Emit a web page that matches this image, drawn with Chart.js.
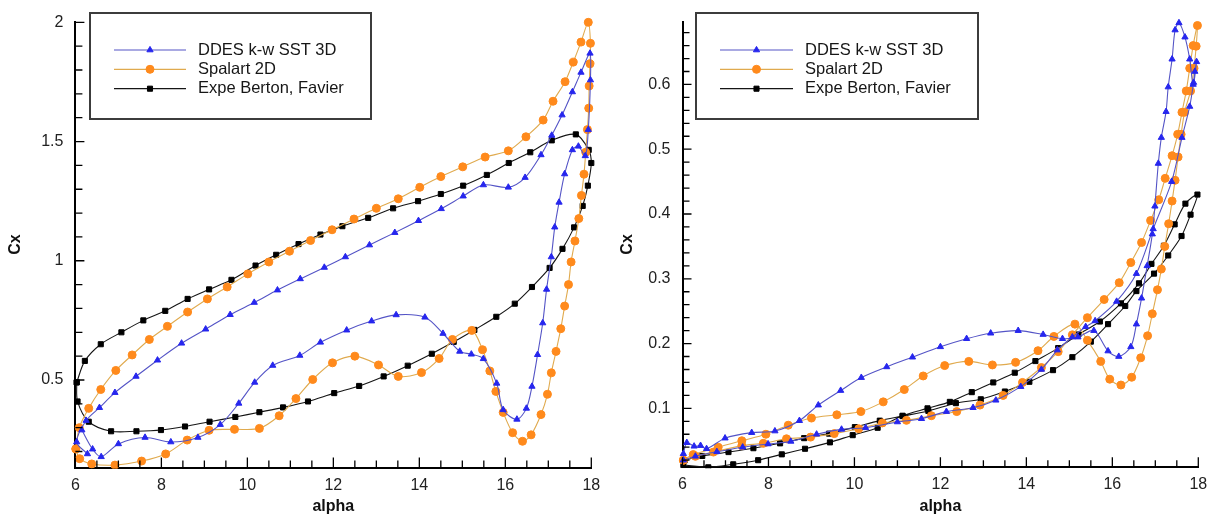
<!DOCTYPE html>
<html lang="en">
<head>
<meta charset="UTF-8">
<title>Cx vs alpha</title>
<script src="https://cdn.jsdelivr.net/npm/chart.js@4"></script>
<style>
  body { margin: 0; background: #fff; }
  .wrap { position: relative; width: 1216px; height: 518px; overflow: hidden; }
  .panel { position: absolute; top: 0; }
  #left { left: 0; }
  #right { left: 600px; }
</style>
</head>
<body>
<div class="wrap">
  <div class="panel" id="left"><canvas id="cLeft" width="616" height="518"></canvas></div>
  <div class="panel" id="right"><canvas id="cRight" width="616" height="518"></canvas></div>
</div>
<script>
const seriesNames = ['DDES k-w SST 3D', 'Spalart 2D', 'Expe Berton, Favier'];
const xTickLabels = [6, 8, 10, 12, 14, 16, 18];
const leftYTickLabels = [0.5, 1, 1.5, 2];
const rightYTickLabels = [0.1, 0.2, 0.3, 0.4, 0.5, 0.6];

// left panel (alpha, Cx) - closed hysteresis loops
const ddesAlphaL = [6.28, 6.03, 6.25, 6.56, 6.92, 7.41, 7.91, 8.47, 9.03, 9.60, 10.16, 10.70, 11.23, 11.79, 12.28, 12.84, 13.43, 13.98, 14.51, 15.02, 15.49, 16.07, 16.46, 16.83, 17.08, 17.32, 17.56, 17.76, 17.97, 17.98, 17.93, 17.86, 17.70, 17.56, 17.38, 17.25, 17.15, 17.07, 16.96, 16.87, 16.75, 16.62, 16.49, 16.27, 15.95, 15.80, 15.49, 15.21, 14.94, 14.55, 14.13, 13.46, 12.89, 12.31, 11.70, 11.22, 10.59, 10.17, 9.80, 9.37, 8.85, 8.22, 7.62, 7.00, 6.60, 6.40, 6.15];
const ddesCxL = [0.19, 0.24, 0.33, 0.384, 0.447, 0.515, 0.583, 0.654, 0.713, 0.774, 0.825, 0.877, 0.924, 0.972, 1.016, 1.066, 1.118, 1.168, 1.218, 1.271, 1.318, 1.308, 1.349, 1.444, 1.526, 1.611, 1.708, 1.790, 1.870, 1.758, 1.55, 1.44, 1.48, 1.465, 1.364, 1.245, 1.141, 1.016, 0.880, 0.739, 0.606, 0.473, 0.381, 0.335, 0.375, 0.486, 0.589, 0.608, 0.62, 0.695, 0.763, 0.773, 0.747, 0.709, 0.658, 0.603, 0.561, 0.49, 0.402, 0.313, 0.259, 0.240, 0.259, 0.232, 0.178, 0.21, 0.29];

const spalAlphaL = [6.01, 6.09, 6.31, 6.59, 6.94, 7.32, 7.72, 8.14, 8.61, 9.07, 9.53, 10.01, 10.50, 10.98, 11.47, 11.97, 12.48, 13.00, 13.51, 14.01, 14.50, 15.01, 15.53, 16.07, 16.48, 16.88, 17.11, 17.39, 17.58, 17.76, 17.93, 17.98, 17.97, 17.95, 17.94, 17.91, 17.87, 17.83, 17.77, 17.71, 17.62, 17.53, 17.47, 17.38, 17.29, 17.18, 17.07, 16.98, 16.83, 16.60, 16.40, 16.17, 15.95, 15.78, 15.64, 15.47, 15.22, 14.77, 14.46, 14.05, 13.51, 13.05, 12.50, 11.98, 11.52, 11.13, 10.74, 10.28, 9.70, 9.11, 8.60, 8.10, 7.54, 6.92, 6.38, 6.10, 6.01];
const spalCxL = [0.211, 0.30, 0.381, 0.46, 0.54, 0.605, 0.67, 0.725, 0.785, 0.84, 0.89, 0.945, 0.995, 1.04, 1.085, 1.13, 1.175, 1.22, 1.26, 1.308, 1.353, 1.394, 1.435, 1.461, 1.52, 1.59, 1.669, 1.751, 1.833, 1.917, 2.0, 1.912, 1.826, 1.733, 1.64, 1.55, 1.455, 1.363, 1.274, 1.177, 1.083, 0.995, 0.90, 0.81, 0.715, 0.62, 0.53, 0.44, 0.355, 0.27, 0.243, 0.279, 0.364, 0.452, 0.538, 0.627, 0.708, 0.67, 0.59, 0.531, 0.515, 0.563, 0.60, 0.572, 0.502, 0.422, 0.35, 0.297, 0.293, 0.289, 0.248, 0.19, 0.16, 0.143, 0.148, 0.17, 0.211];

const expeAlphaL = [6.03, 6.22, 6.59, 7.07, 7.58, 8.09, 8.61, 9.11, 9.63, 10.19, 10.67, 11.19, 11.70, 12.21, 12.81, 13.39, 13.97, 14.50, 15.02, 15.57, 16.08, 16.58, 17.08, 17.64, 17.94, 18.0, 17.92, 17.80, 17.60, 17.33, 17.03, 16.62, 16.22, 15.79, 15.28, 14.80, 14.29, 13.73, 13.17, 12.60, 12.02, 11.41, 10.83, 10.28, 9.72, 9.12, 8.55, 7.99, 7.42, 6.83, 6.31, 6.05, 6.03];
const expeCxL = [0.49, 0.58, 0.65, 0.70, 0.75, 0.79, 0.84, 0.88, 0.92, 0.98, 1.025, 1.07, 1.11, 1.145, 1.18, 1.22, 1.25, 1.28, 1.315, 1.36, 1.41, 1.455, 1.505, 1.53, 1.465, 1.41, 1.315, 1.23, 1.14, 1.05, 0.97, 0.89, 0.82, 0.765, 0.71, 0.66, 0.61, 0.56, 0.515, 0.475, 0.445, 0.41, 0.385, 0.365, 0.345, 0.325, 0.305, 0.29, 0.285, 0.285, 0.325, 0.41, 0.49];

// right panel
const ddesAlphaR = [6.02, 6.10, 6.27, 6.42, 6.56, 6.99, 7.61, 8.15, 8.72, 9.16, 9.68, 10.16, 10.75, 11.35, 12.00, 12.61, 13.17, 13.81, 14.39, 14.84, 15.20, 15.57, 15.90, 16.15, 16.43, 16.56, 16.68, 16.81, 16.93, 16.99, 17.07, 17.14, 17.25, 17.30, 17.39, 17.46, 17.55, 17.69, 17.80, 17.88, 17.96, 17.92, 17.89, 17.80, 17.62, 17.38, 16.95, 16.56, 16.10, 15.60, 15.38, 15.07, 14.72, 14.35, 13.87, 13.29, 12.76, 12.14, 11.56, 11.00, 10.26, 9.70, 9.12, 8.52, 7.99, 7.40, 6.80, 6.30, 6.02];
const ddesCxR = [0.03, 0.047, 0.0415, 0.0425, 0.0376, 0.054, 0.0625, 0.065, 0.081, 0.105, 0.1275, 0.1475, 0.164, 0.179, 0.195, 0.2075, 0.216, 0.22, 0.214, 0.2075, 0.21, 0.22, 0.1885, 0.18, 0.195, 0.23, 0.27, 0.32, 0.369, 0.412, 0.478, 0.518, 0.558, 0.596, 0.639, 0.684, 0.695, 0.673, 0.639, 0.60, 0.635, 0.62, 0.603, 0.566, 0.518, 0.45, 0.377, 0.308, 0.265, 0.235, 0.226, 0.21, 0.19, 0.16, 0.1335, 0.1125, 0.101, 0.095, 0.084, 0.079, 0.07, 0.0676, 0.06, 0.049, 0.045, 0.04, 0.033, 0.026, 0.02];

const spalAlphaR = [6.02, 6.30, 6.72, 7.38, 7.88, 8.42, 8.98, 9.53, 10.10, 10.65, 11.21, 11.79, 12.38, 12.92, 13.46, 13.91, 14.35, 14.74, 15.07, 15.42, 15.81, 16.16, 16.43, 16.68, 16.89, 17.08, 17.23, 17.39, 17.52, 17.62, 17.72, 17.80, 17.88, 17.98, 17.95, 17.90, 17.82, 17.68, 17.60, 17.53, 17.46, 17.39, 17.31, 17.22, 17.14, 17.05, 16.93, 16.82, 16.66, 16.45, 16.20, 15.94, 15.73, 15.42, 15.13, 14.64, 14.27, 13.75, 13.21, 12.66, 12.10, 11.60, 11.16, 10.67, 10.15, 9.59, 9.00, 8.46, 7.94, 7.38, 6.83, 6.25, 6.02];
const spalCxR = [0.02, 0.026, 0.0325, 0.0424, 0.046, 0.053, 0.0556, 0.061, 0.0685, 0.0775, 0.0815, 0.0886, 0.095, 0.105, 0.12, 0.14, 0.163, 0.1875, 0.2135, 0.24, 0.268, 0.294, 0.325, 0.356, 0.39, 0.422, 0.455, 0.49, 0.523, 0.557, 0.59, 0.625, 0.66, 0.691, 0.659, 0.625, 0.59, 0.557, 0.523, 0.488, 0.452, 0.42, 0.385, 0.35, 0.315, 0.283, 0.246, 0.212, 0.178, 0.148, 0.136, 0.145, 0.1725, 0.205, 0.23, 0.211, 0.189, 0.171, 0.167, 0.1725, 0.166, 0.15, 0.129, 0.11, 0.095, 0.09, 0.085, 0.074, 0.06, 0.05, 0.04, 0.0286, 0.02];

const expeAlphaR = [6.02, 6.60, 7.18, 7.76, 8.31, 8.85, 9.43, 9.96, 10.54, 11.12, 11.70, 12.22, 12.73, 13.23, 13.73, 14.21, 14.74, 15.21, 15.71, 16.20, 16.62, 16.91, 17.20, 17.45, 17.70, 17.98, 17.82, 17.61, 17.30, 16.97, 16.56, 16.30, 15.90, 15.50, 15.07, 14.62, 14.07, 13.50, 12.94, 12.36, 11.72, 11.12, 10.59, 10.01, 9.41, 8.83, 8.27, 7.65, 7.07, 6.46, 6.05];
const expeCxR = [0.0125, 0.009, 0.0136, 0.020, 0.029, 0.0376, 0.0475, 0.0586, 0.070, 0.0886, 0.100, 0.110, 0.125, 0.140, 0.155, 0.173, 0.193, 0.214, 0.234, 0.262, 0.293, 0.323, 0.351, 0.384, 0.416, 0.430, 0.399, 0.366, 0.336, 0.308, 0.281, 0.258, 0.230, 0.203, 0.179, 0.159, 0.141, 0.126, 0.114, 0.108, 0.096, 0.088, 0.081, 0.071, 0.061, 0.054, 0.046, 0.0385, 0.0325, 0.0265, 0.02];

Chart.defaults.font.family = '"Liberation Sans", Arial, Helvetica, sans-serif';
Chart.defaults.color = '#222';

const styles = [
  { line: '#5454c6', mark: '#2626ee', shape: 'triangle', r: 3.6 },
  { line: '#e0aa4e', mark: '#ff8a1c', shape: 'circle', r: 4 },
  { line: '#151515', mark: '#000000', shape: 'rect', r: 3.6 }
];

function zip(xs, ys) { return xs.map((x, i) => ({ x: x, y: ys[i] })); }
function pickLabel(v, list) {
  const hit = list.find(t => Math.abs(t - v) < 1e-6);
  return hit === undefined ? '' : String(hit);
}
// every multiple of step inside [min, max], no extra bound ticks
function stepTicks(min, max, step) {
  const out = [];
  for (let k = Math.ceil(min / step - 1e-9); k * step <= max + 1e-9; k++) {
    out.push({ value: Math.round(k * step * 1e6) / 1e6 });
  }
  return out;
}

function makeDataset(i, pts) {
  const s = styles[i];
  return {
    label: seriesNames[i], data: pts, showLine: true, tension: 0.3,
    borderColor: s.line, borderWidth: 1.1,
    pointStyle: s.shape, pointRadius: s.r, pointHoverRadius: s.r,
    pointBackgroundColor: s.mark, pointBorderColor: s.mark, pointBorderWidth: 1,
    clip: { left: 6, top: 6, right: 8, bottom: 1 }
  };
}

// inward ticks + boxed legend
const panelDecor = {
  id: 'panelDecor',
  afterDraw(chart, args, opts) {
    const { ctx, chartArea: a } = chart;
    const xs = chart.scales.x, ys = chart.scales.y;
    ctx.save();
    ctx.strokeStyle = '#000';
    ctx.lineWidth = 1.3;
    ctx.beginPath();
    xs.ticks.forEach(t => {
      const px = xs.getPixelForValue(t.value);
      const len = t.label ? 10 : 7;
      ctx.moveTo(px, a.bottom); ctx.lineTo(px, a.bottom - len);
    });
    ys.ticks.forEach(t => {
      const py = ys.getPixelForValue(t.value);
      const len = t.label ? 9 : 7;
      ctx.moveTo(a.left, py); ctx.lineTo(a.left + len, py);
    });
    ctx.stroke();

    const b = opts.box;
    ctx.fillStyle = '#fff';
    ctx.fillRect(b.x, b.y, b.w, b.h);
    ctx.lineWidth = 2;
    ctx.strokeStyle = '#3c3c3c';
    ctx.strokeRect(b.x, b.y, b.w, b.h);
    ctx.font = '16.5px "Liberation Sans", Arial, sans-serif';
    ctx.textBaseline = 'middle';
    chart.data.datasets.forEach((ds, i) => {
      const y = b.rows[i];
      ctx.strokeStyle = ds.borderColor;
      ctx.lineWidth = 1.2;
      ctx.beginPath();
      ctx.moveTo(b.lx0, y); ctx.lineTo(b.lx1, y);
      ctx.stroke();
      ctx.fillStyle = ds.pointBackgroundColor;
      ctx.strokeStyle = ds.pointBorderColor;
      ctx.lineWidth = 1;
      Chart.helpers.drawPoint(ctx, { pointStyle: ds.pointStyle, radius: ds.pointRadius, rotation: 0, borderWidth: 1 }, (b.lx0 + b.lx1) / 2, y);
      ctx.fillStyle = '#161616';
      ctx.fillText(ds.label, b.tx, y);
    });
    ctx.restore();
  }
};

function makeChart(id, p) {
  return new Chart(document.getElementById(id), {
    type: 'scatter',
    data: { datasets: [makeDataset(0, p.ddes), makeDataset(1, p.spal), makeDataset(2, p.expe)] },
    options: {
      responsive: false, animation: false, devicePixelRatio: 1,
      layout: { padding: p.pad },
      plugins: { legend: { display: false }, tooltip: { enabled: false }, panelDecor: p.decor },
      scales: {
        x: {
          type: 'linear', min: 6, max: 18,
          grid: { display: false, drawTicks: false },
          border: { display: true, color: '#000', width: 2 },
          ticks: {
            autoSkip: false, maxRotation: 0, minRotation: 0, padding: 8,
            font: { size: 16 }, color: '#222',
            callback: v => pickLabel(v, xTickLabels)
          },
          afterBuildTicks: s => { s.ticks = stepTicks(6, 18, 0.5); },
          title: { display: true, text: 'alpha', font: { size: 16, weight: 'bold' }, color: '#111', padding: { top: 0, bottom: 1.4 } },
          afterFit: s => { s.height = p.xHeight; }
        },
        y: {
          type: 'linear', min: p.yMin, max: p.yMax,
          grid: { display: false, drawTicks: false },
          border: { display: true, color: '#000', width: 2 },
          ticks: {
            autoSkip: false, padding: 12,
            font: { size: 16 }, color: '#222',
            callback: v => pickLabel(v, p.yLabels)
          },
          afterBuildTicks: s => { s.ticks = stepTicks(p.yMin, p.yMax, p.yStep); },
          title: { display: true, text: 'Cx', font: { size: 16, weight: 'bold' }, color: '#111', padding: { top: p.titlePad, bottom: 0 } },
          afterFit: s => { s.width = p.yWidth; }
        }
      }
    },
    plugins: [panelDecor]
  });
}

makeChart('cLeft', {
  ddes: zip(ddesAlphaL, ddesCxL), spal: zip(spalAlphaL, spalCxL), expe: zip(expeAlphaL, expeCxL),
  yMin: 0.133, yMax: 2.003, yStep: 0.1, yLabels: leftYTickLabels,
  pad: { left: 0, top: 10, right: 24.7, bottom: 0 }, yWidth: 75.4, xHeight: 50.5, titlePad: 6.4,
  decor: { box: { x: 90, y: 13, w: 281, h: 106, rows: [50, 69.3, 88.7], lx0: 114, lx1: 186, tx: 198 } }
});

makeChart('cRight', {
  ddes: zip(ddesAlphaR, ddesCxR), spal: zip(spalAlphaR, spalCxR), expe: zip(expeAlphaR, expeCxR),
  yMin: 0.009, yMax: 0.697, yStep: 0.02, yLabels: rightYTickLabels,
  pad: { left: 0, top: 9.3, right: 17.7, bottom: 0 }, yWidth: 82.5, xHeight: 50.7, titlePad: 18.4,
  decor: { box: { x: 96, y: 13, w: 282, h: 106, rows: [50, 69.3, 88.7], lx0: 120, lx1: 193, tx: 205 } }
});
</script>
</body>
</html>
